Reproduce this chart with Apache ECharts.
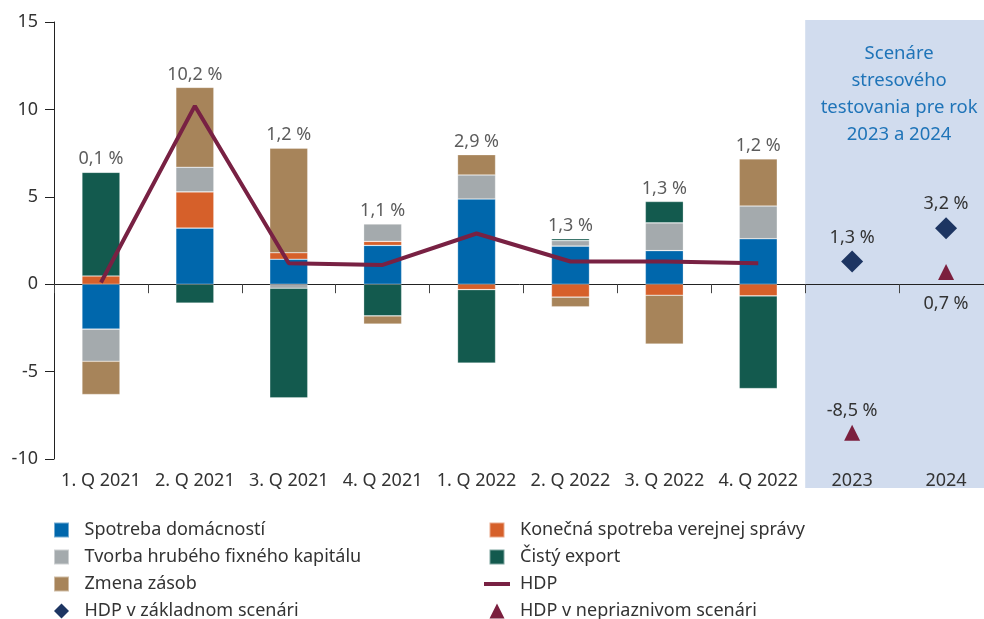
<!DOCTYPE html>
<html>
<head>
<meta charset="utf-8">
<script src="https://cdn.jsdelivr.net/npm/echarts@6/dist/echarts.min.js"></script>
<style>
html, body { margin: 0; padding: 0; background: #fff; }
#chart { width: 984px; height: 619px; }
</style>
</head>
<body>
<div id="chart"></div>
<script>
// kategórie a hodnoty (p.b.)
var categories = ['1. Q 2021', '2. Q 2021', '3. Q 2021', '4. Q 2021', '1. Q 2022', '2. Q 2022', '3. Q 2022', '4. Q 2022', '2023', '2024'];
var spotreba = [-2.57, 3.21, 1.43, 2.22, 4.87, 2.18, 1.92, 2.6, null, null];
var konecna = [0.47, 2.07, 0.37, 0.23, -0.31, -0.74, -0.63, -0.67, null, null];
var tvorba = [-1.84, 1.41, -0.23, 0.99, 1.38, 0.31, 1.59, 1.87, null, null];
var cistyExport = [5.93, -1.08, -6.27, -1.81, -4.2, 0.11, 1.22, -5.3, null, null];
var zasoby = [-1.9, 4.57, 5.98, -0.47, 1.16, -0.55, -2.79, 2.7, null, null];
var hdp = [0.1, 10.2, 1.2, 1.1, 2.9, 1.3, 1.3, 1.2, null, null];
var zakladny = [null, null, null, null, null, null, null, null, 1.3, 3.2];
var nepriaznivy = [null, null, null, null, null, null, null, null, -8.5, 0.7];
var yTicks = [-10, 15, 5];
var scenarioText = 'Scenáre\nstresového\ntestovania pre rok\n2023 a 2024';

var font = 'Noto Sans';
var fs = 18;
var sq = 'path://M0,0H10V10H0Z';
var dia = 'path://M5,0L10,5L5,10L0,5Z';
var tri = 'path://M5,0L10,10L0,10Z';
var ln = 'path://M0,0H26V4H0Z';

function pct(v) {
    return v.toFixed(1).replace('.', ',') + ' %';
}

// vrch kladnej časti stĺpca - kam ide popisok HDP
var parts = [spotreba, konecna, tvorba, cistyExport, zasoby];
var tops = categories.map(function(c, i) {
    if (hdp[i] == null) return null;
    var s = 0;
    parts.forEach(function(a) { if (a[i] > 0) s += a[i]; });
    return s;
});

var chart = echarts.init(document.getElementById('chart'));

function barSeries(name, data, color) {
    return {
        name: name,
        type: 'bar',
        stack: 'hdp',
        barWidth: 38,
        data: data,
        itemStyle: { color: color, borderColor: 'rgba(255,255,255,0.45)', borderWidth: 0.6 }
    };
}

var legendText = { fontFamily: font, fontSize: fs, color: '#333', padding: [0, 0, 0, 5] };

var option = {
    animation: false,
    textStyle: { fontFamily: font },
    grid: { left: 54, top: 22, width: 939, bottom: 160, containLabel: false, outerBoundsMode: 'none' },
    legend: [{
        left: 53, top: 521, height: 120, orient: 'vertical', padding: 0,
        itemWidth: 26, itemHeight: 15, itemGap: 9,
        textStyle: legendText,
        data: [
            { name: 'Spotreba domácností', icon: sq },
            { name: 'Tvorba hrubého fixného kapitálu', icon: sq },
            { name: 'Zmena zásob', icon: sq },
            { name: 'HDP v základnom scenári', icon: dia }
        ]
    }, {
        left: 484, top: 521, height: 120, orient: 'vertical', padding: 0,
        itemWidth: 26, itemHeight: 15, itemGap: 9,
        textStyle: legendText,
        data: [
            { name: 'Konečná spotreba verejnej správy', icon: sq },
            { name: 'Čistý export', icon: sq },
            { name: 'HDP', icon: ln },
            { name: 'HDP v nepriaznivom scenári', icon: tri }
        ]
    }],
    xAxis: [{
        type: 'category',
        data: categories,
        axisLine: { onZero: true, lineStyle: { color: '#222', width: 1 } },
        axisTick: { show: true, length: 9, lineStyle: { color: '#444' } },
        axisLabel: { show: false }
    }, {
        type: 'category',
        data: categories,
        position: 'bottom',
        axisLine: { show: false, onZero: false },
        axisTick: { show: false },
        axisLabel: { interval: 0, fontFamily: font, fontSize: fs, color: '#333', margin: 13 }
    }],
    yAxis: {
        type: 'value',
        min: yTicks[0],
        max: yTicks[1],
        interval: yTicks[2],
        splitLine: { show: false },
        axisLine: { show: true, lineStyle: { color: '#222', width: 1 } },
        axisTick: { show: true, length: 9, lineStyle: { color: '#222' } },
        axisLabel: { fontFamily: font, fontSize: fs, color: '#333', margin: 16 }
    },
    series: [
        barSeries('Spotreba domácností', spotreba, '#0067ac'),
        barSeries('Konečná spotreba verejnej správy', konecna, '#d6602a'),
        barSeries('Tvorba hrubého fixného kapitálu', tvorba, '#a4aaad'),
        barSeries('Čistý export', cistyExport, '#135a4e'),
        barSeries('Zmena zásob', zasoby, '#a7845a'),
        {
            name: 'HDP',
            type: 'line',
            data: hdp,
            symbol: 'none',
            z: 5,
            lineStyle: { color: '#782143', width: 4 },
            itemStyle: { color: '#782143' }
        },
        {
            name: 'hdpLabel',
            type: 'scatter',
            data: tops,
            symbolSize: 0,
            silent: true,
            z: 6,
            label: {
                show: true,
                position: 'top',
                distance: 4,
                fontFamily: font,
                fontSize: fs,
                color: '#333',
                formatter: function(p) { return pct(hdp[p.dataIndex]); }
            }
        },
        {
            name: 'HDP v základnom scenári',
            type: 'scatter',
            data: zakladny,
            symbol: 'diamond',
            symbolSize: 22,
            z: 6,
            itemStyle: { color: '#1d3562', opacity: 1 },
            label: {
                show: true, position: 'top', distance: 4,
                fontFamily: font, fontSize: fs, color: '#333',
                formatter: function(p) { return pct(p.value); }
            }
        },
        {
            name: 'HDP v nepriaznivom scenári',
            type: 'scatter',
            data: nepriaznivy.map(function(v) {
                if (v == null) return null;
                return v > 0 ? { value: v, label: { position: 'bottom', distance: 15 } } : v;
            }),
            symbol: 'triangle',
            symbolSize: 16,
            z: 6,
            itemStyle: { color: '#7b1f3e', opacity: 1 },
            label: {
                show: true, position: 'top', distance: 5,
                fontFamily: font, fontSize: fs, color: '#333',
                formatter: function(p) { return pct(p.value); }
            }
        }
    ]
};

chart.setOption(option);

// podfarbenie scenárov
function px(i) { return chart.convertToPixel({ xAxisIndex: 0 }, categories[i]); }
var x0 = (px(7) + px(8)) / 2;
var yTop = chart.convertToPixel({ yAxisIndex: 0 }, yTicks[1]) - 2;
var yBot = chart.convertToPixel({ yAxisIndex: 0 }, yTicks[0]) + 29;
chart.setOption({
    graphic: [{
        type: 'rect',
        z: -1,
        silent: true,
        shape: { x: x0, y: yTop, width: 984 - x0, height: yBot - yTop },
        style: { fill: '#d1dcee' }
    }, {
        type: 'text',
        z: 10,
        silent: true,
        x: (px(8) + px(9)) / 2,
        y: 40,
        style: {
            text: scenarioText,
            fontFamily: font,
            fontSize: 18.5,
            lineHeight: 27,
            fill: '#1f74b8',
            align: 'center',
            verticalAlign: 'top'
        }
    }]
});

window.addEventListener('resize', function() {
    chart.resize();
});
</script>
</body>
</html>
